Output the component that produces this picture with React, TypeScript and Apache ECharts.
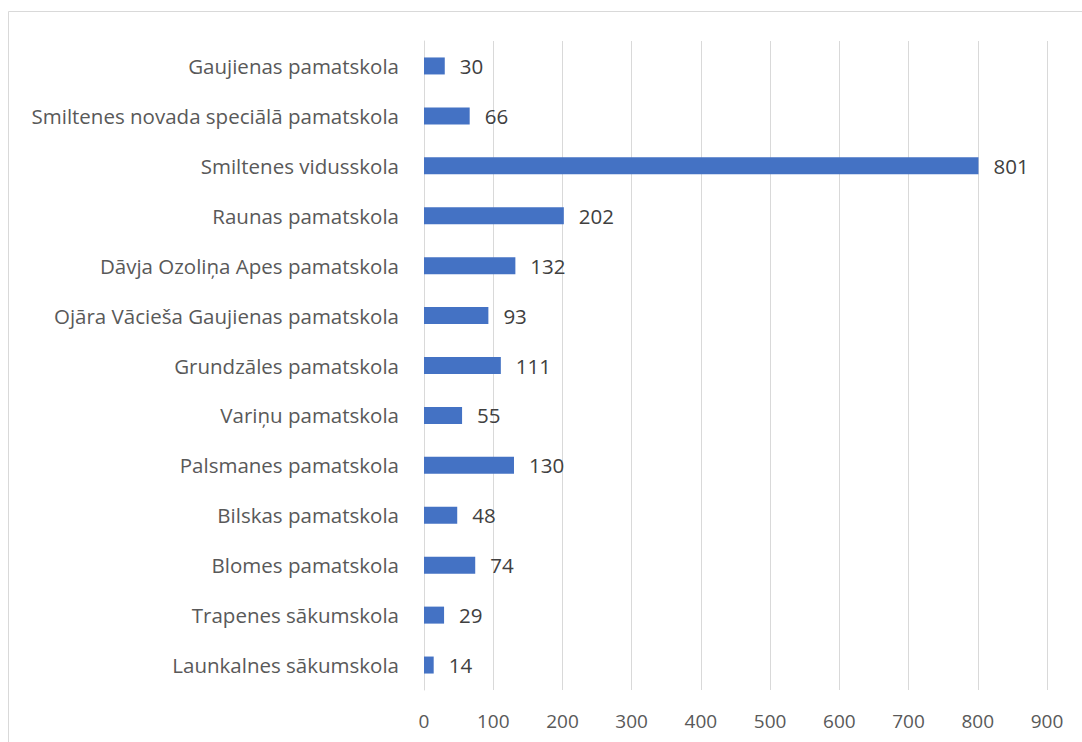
import React, { useEffect, useRef } from "react";
import * as echarts from "echarts";

const categories = [
  "Launkalnes sākumskola",
  "Trapenes sākumskola",
  "Blomes pamatskola",
  "Bilskas pamatskola",
  "Palsmanes pamatskola",
  "Variņu pamatskola",
  "Grundzāles pamatskola",
  "Ojāra Vācieša Gaujienas pamatskola",
  "Dāvja Ozoliņa Apes pamatskola",
  "Raunas pamatskola",
  "Smiltenes vidusskola",
  "Smiltenes novada speciālā pamatskola",
  "Gaujienas pamatskola",
];
const values = [14, 29, 74, 48, 130, 55, 111, 93, 132, 202, 801, 66, 30];
const axisMin = 0;
const axisMax = 900;
const axisStep = 100;

const FONT = "'Open Sans', sans-serif";

export default function App() {
  const ref = useRef<HTMLDivElement>(null);
  useEffect(() => {
    if (!ref.current) return;
    const chart = echarts.init(ref.current, undefined, { renderer: "svg" });
    chart.setOption({
      animation: false,
      backgroundColor: "#ffffff",
      grid: { left: 424, right: 35, top: 41, bottom: 52, containLabel: false },
      graphic: [
        {
          type: "rect",
          shape: { x: 8.5, y: 11.5, width: 1200, height: 900 },
          style: { fill: "none", stroke: "#d9d9d9", lineWidth: 1 },
          silent: true,
        },
      ],
      xAxis: {
        type: "value",
        min: axisMin,
        max: axisMax,
        interval: axisStep,
        axisLine: { show: false },
        axisTick: { show: false },
        splitLine: { show: true, lineStyle: { color: "#d9d9d9", width: 1 } },
        axisLabel: { color: "#595959", fontFamily: FONT, fontSize: 19, margin: 21 },
      },
      yAxis: {
        type: "category",
        data: categories,
        axisLine: { show: true, lineStyle: { color: "#d9d9d9", width: 1 } },
        axisTick: { show: false },
        axisLabel: { color: "#595959", fontFamily: FONT, fontSize: 20.5, margin: 25 },
      },
      series: [
        {
          type: "bar",
          data: values,
          barWidth: 17,
          itemStyle: { color: "#4472c4" },
          label: {
            show: true,
            position: "right",
            distance: 15,
            color: "#404040",
            fontFamily: FONT,
            fontSize: 20.5,
          },
        },
      ],
    });
    return () => chart.dispose();
  }, []);
  return (
    <div
      ref={ref}
      style={{ position: "fixed", left: 0, top: 0, width: 1082, height: 742 }}
    />
  );
}
